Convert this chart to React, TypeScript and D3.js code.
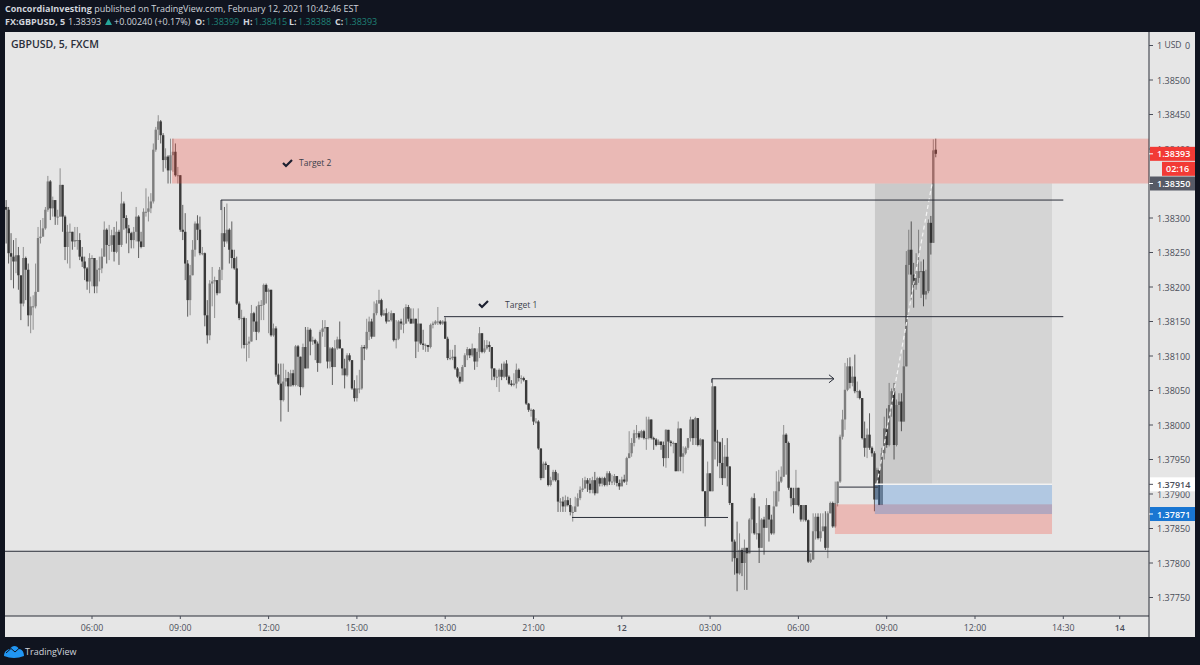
import React from "react";
import * as d3 from "d3";

// prices are stored as points: 38326 means 1.38326
const closes = [
  38316,38312,38249,38244,38237,38246,38217,38176,38242,38225,
  38159,38172,38172,38193,38271,38273,38285,38312,38353,38314,
  38326,38302,38302,38348,38302,38258,38280,38280,38266,38268,
  38268,38244,38237,38227,38208,38242,38242,38201,38225,38227,
  38244,38283,38261,38261,38275,38251,38280,38261,38321,38300,
  38285,38278,38268,38280,38302,38266,38258,38309,38309,38314,
  38324,38399,38428,38440,38420,38384,38389,38369,38391,38396,
  38362,38362,38283,38280,38234,38181,38217,38254,38292,38283,
  38249,38249,38159,38130,38205,38208,38210,38191,38225,38278,
  38266,38283,38254,38242,38227,38176,38155,38155,38116,38118,
  38121,38162,38150,38135,38174,38174,38203,38193,38196,38130,
  38140,38073,38060,38036,38063,38068,38056,38075,38058,38114,
  38099,38055,38113,38082,38138,38121,38123,38118,38090,38135,
  38140,38142,38092,38111,38084,38111,38124,38111,38082,38072,
  38101,38094,38053,38039,38053,38053,38113,38111,38135,38150,
  38128,38162,38176,38181,38159,38162,38150,38152,38162,38123,
  38125,38150,38147,38147,38171,38154,38147,38154,38121,38147,
  38118,38116,38116,38113,38145,38147,38150,38150,38147,38150,
  38125,38097,38097,38099,38082,38070,38063,38084,38101,38110,
  38101,38111,38092,38106,38133,38106,38111,38116,38113,38082,
  38070,38070,38080,38070,38089,38070,38060,38058,38060,38080,
  38068,38068,38065,38031,38022,38022,38005,38005,37966,37923,
  37944,37942,37913,37920,37932,37920,37889,37889,37882,37891,
  37884,37874,37874,37882,37894,37906,37908,37920,37915,37906,
  37920,37901,37923,37915,37923,37913,37930,37918,37918,37926,
  37916,37911,37921,37918,37952,37959,37974,37988,37988,37982,
  37991,37981,37981,38008,37981,37979,37971,37976,37971,37952,
  37993,37976,37974,37974,37933,37995,37954,37959,37967,37981,
  38008,37981,38010,37971,37979,37904,37867,37930,37904,38056,
  37976,37975,37945,37923,37954,37940,37887,37831,37807,37785,
  37819,37800,37822,37814,37863,37894,37843,37843,37822,37863,
  37851,37884,37863,37843,37882,37904,37918,37925,37986,37974,
  37909,37894,37884,37909,37884,37863,37884,37862,37802,37805,
  37846,37867,37836,37846,37853,37822,37872,37887,37853,37887,
  37918,37983,38008,38051,38085,38061,38070,38049,38049,38039,
  37981,37967,37986,37967,37959,37892,37935,37884,37959,37995,
  37971,38029,38049,37971,38029,38034,38005,38085,38232,38254,
  38218,38203,38213,38223,38223,38189,38194,38293,38264,38398,
  38393,
];

const highs = [
  38326,38326,38316,38278,38268,38271,38258,38213,38258,38244,
  38234,38186,38188,38234,38287,38297,38300,38316,38361,38355,
  38331,38324,38312,38372,38348,38304,38290,38292,38280,38287,
  38287,38278,38258,38244,38229,38249,38246,38242,38239,38244,
  38256,38295,38285,38290,38283,38287,38295,38283,38338,38324,
  38304,38290,38280,38287,38316,38304,38280,38314,38343,38331,
  38336,38408,38432,38449,38442,38423,38401,38391,38415,38415,
  38408,38374,38362,38319,38307,38239,38232,38268,38295,38304,
  38302,38258,38250,38181,38210,38229,38215,38210,38229,38326,
  38316,38321,38285,38295,38254,38244,38179,38167,38157,38155,
  38128,38174,38164,38172,38179,38181,38205,38205,38198,38196,
  38147,38143,38089,38089,38089,38080,38077,38080,38080,38116,
  38116,38099,38118,38142,38142,38140,38128,38125,38121,38138,
  38152,38152,38142,38113,38113,38123,38128,38150,38111,38096,
  38104,38104,38094,38065,38072,38080,38116,38116,38154,38157,
  38154,38179,38181,38196,38183,38167,38169,38164,38166,38162,
  38152,38152,38154,38169,38175,38174,38169,38169,38154,38169,
  38142,38138,38118,38116,38147,38150,38152,38171,38152,38152,
  38156,38128,38109,38109,38116,38084,38077,38087,38104,38113,
  38111,38118,38111,38111,38142,38133,38123,38123,38121,38113,
  38082,38080,38082,38089,38092,38094,38072,38065,38075,38089,
  38082,38072,38070,38065,38032,38024,38023,38010,38007,37966,
  37947,37947,37942,37925,37935,37935,37930,37894,37896,37898,
  37896,37894,37882,37896,37901,37911,37923,37925,37923,37923,
  37925,37932,37925,37925,37925,37925,37933,37933,37928,37929,
  37925,37921,37925,37928,37954,37991,37981,37993,38000,37991,
  37993,37993,38012,38012,38008,37983,37981,37979,37976,37976,
  37994,37993,37978,37976,37974,38005,37995,37969,37969,37981,
  38012,38008,38012,38010,37981,37979,37904,37947,37930,38068,
  38056,37993,37976,37981,37971,37981,37940,37887,37834,37860,
  37843,37822,37834,37822,37865,37896,37901,37858,37882,37865,
  37867,37894,37884,37870,37904,37933,37935,37940,38000,37988,
  37976,37909,37909,37935,37909,37884,37884,37884,37863,37814,
  37872,37872,37872,37872,37872,37875,37875,37889,37889,37918,
  37918,37986,38022,38090,38097,38098,38085,38102,38063,38051,
  38039,38005,37995,38017,37969,37962,37938,37938,37967,38012,
  38024,38061,38053,38061,38037,38046,38046,38109,38252,38283,
  38295,38235,38249,38283,38237,38240,38225,38298,38303,38414,
  38415,
];

const lows = [
  38278,38263,38234,38210,38198,38220,38196,38152,38172,38181,
  38143,38133,38138,38169,38193,38263,38273,38283,38309,38297,
  38302,38290,38290,38302,38280,38239,38234,38227,38254,38258,
  38254,38239,38229,38210,38196,38191,38201,38191,38191,38208,
  38220,38244,38234,38239,38251,38237,38249,38232,38258,38283,
  38263,38249,38256,38256,38266,38242,38256,38258,38302,38295,
  38307,38321,38396,38413,38408,38367,38372,38350,38350,38367,
  38360,38350,38280,38268,38210,38157,38159,38217,38244,38268,
  38246,38246,38143,38118,38123,38172,38155,38188,38191,38210,
  38258,38263,38234,38227,38225,38174,38152,38111,38111,38092,
  38097,38121,38135,38123,38133,38152,38152,38176,38133,38128,
  38128,38070,38058,38005,38034,38056,38019,38056,38056,38056,
  38056,38043,38053,38082,38113,38101,38116,38094,38077,38089,
  38128,38113,38082,38082,38058,38084,38109,38111,38072,38053,
  38070,38092,38051,38034,38034,38046,38051,38094,38109,38123,
  38125,38128,38159,38176,38157,38158,38147,38150,38150,38121,
  38111,38123,38138,38133,38147,38150,38147,38150,38097,38106,
  38116,38109,38106,38106,38111,38140,38145,38145,38145,38145,
  38125,38094,38094,38094,38080,38068,38060,38063,38084,38094,
  38097,38099,38080,38084,38097,38104,38104,38109,38106,38065,
  38065,38055,38048,38065,38068,38065,38058,38056,38056,38053,
  38063,38060,38063,38029,38019,38012,38000,38002,37964,37920,
  37925,37935,37911,37911,37918,37918,37874,37874,37874,37874,
  37882,37869,37860,37877,37882,37891,37903,37908,37903,37901,
  37901,37898,37901,37911,37911,37911,37911,37913,37913,37913,
  37911,37906,37913,37916,37913,37952,37954,37969,37981,37979,
  37981,37979,37964,37979,37979,37964,37969,37971,37964,37940,
  37938,37952,37969,37959,37933,37933,37933,37930,37957,37964,
  37976,37971,37971,37969,37969,37904,37853,37867,37904,37904,
  37950,37940,37923,37913,37923,37911,37884,37802,37783,37759,
  37783,37781,37761,37761,37814,37843,37841,37834,37800,37822,
  37812,37851,37831,37841,37841,37882,37889,37916,37925,37928,
  37906,37882,37872,37884,37882,37860,37860,37860,37800,37800,
  37805,37834,37834,37831,37848,37819,37807,37872,37851,37851,
  37882,37916,37979,37993,38049,38053,38056,38046,38039,38037,
  37979,37954,37952,37964,37954,37875,37892,37884,37884,37950,
  37967,37969,38012,37950,37969,38005,37991,38005,38085,38218,
  38182,38170,38196,38206,38184,38172,38182,38191,38247,38264,
  38388,
];

const firstOpen = 38330;
const lastOpen = 38399;

const priceTicks = [
  1.3855, 1.385, 1.3845, 1.384, 1.3835, 1.383, 1.3825, 1.382, 1.3815, 1.381,
  1.3805, 1.38, 1.3795, 1.379, 1.3785, 1.378, 1.3775,
];
const timeTicks: [number, string][] = [
  [36, "06:00"], [72, "09:00"], [108, "12:00"], [144, "15:00"], [180, "18:00"],
  [216, "21:00"], [252, "12"], [288, "03:00"], [324, "06:00"], [360, "09:00"],
  [396, "12:00"], [432, "14:30"], [455, "14"],
];

const FONT = "'Open Sans', 'Noto Sans', sans-serif";
const dark = "#10141f";
const paper = "#e6e6e6";
const teal = "#1f8076";

const width = 1200;
const height = 665;
const plot = { left: 5, right: 1149, top: 32, bottom: 616, panelRight: 1195, panelBottom: 637 };

const App: React.FC = () => {
  const x = d3.scaleLinear().domain([36, 396]).range([92, 975]);
  const y = d3.scaleLinear().domain([1.38, 1.385]).range([425, 80]);
  const price = (pts: number) => y(1 + pts / 100000);

  const candles = closes.map((c, i) => {
    let o = i === 0 ? firstOpen : closes[i - 1];
    if (i === closes.length - 1) o = lastOpen;
    return { i, o, c, h: highs[i], l: lows[i] };
  });

  const zone = (
    i0: number, i1: number, p0: number, p1: number, fill: string, opacity: number
  ) => (
    <rect
      x={x(i0)}
      width={x(i1) - x(i0)}
      y={y(p0)}
      height={y(p1) - y(p0)}
      fill={fill}
      fillOpacity={opacity}
    />
  );

  const tag = (p: number, bg: string, fg: string, text: string) => (
    <g>
      <rect x={plot.right + 1} y={y(p) - 7} width={plot.panelRight - plot.right - 1} height={14} fill={bg} />
      <line x1={plot.right} x2={plot.right + 4} y1={y(p)} y2={y(p)} stroke={fg} />
      <text x={1157} y={y(p) + 3.5} fontSize={9} fontWeight={600} fill={fg} fontFamily={FONT}>
        {text}
      </text>
    </g>
  );

  const check = (cx: number, cy: number) => (
    <path
      d={`M${cx - 5},${cy} L${cx - 2},${cy + 3} L${cx + 4},${cy - 3}`}
      fill="none"
      stroke="#1c2030"
      strokeWidth={2.2}
    />
  );

  const topLineX = x(88.6);
  const arrowEnd = x(338.5);
  const arrowY = y(1.38067);

  return (
    <svg
      width={width}
      height={height}
      style={{ position: "fixed", left: 0, top: 0, display: "block" }}
    >
      <rect width={width} height={height} fill={dark} />
      <rect
        x={plot.left}
        y={plot.top}
        width={plot.panelRight - plot.left}
        height={plot.panelBottom - plot.top}
        fill={paper}
      />

      {/* header */}
      <g fontFamily={FONT} fontSize={9} fill="#d1d4dc">
        <text x={5} y={12}>
          <tspan fontWeight={700}>ConcordiaInvesting</tspan> published on TradingView.com, February 12, 2021 10:42:46 EST
        </text>
        <text x={5} y={25} fontWeight={700}>FX:GBPUSD, 5</text>
        <text x={68} y={25}>1.38393</text>
        <path d="M105,25 L108.5,18.5 L112,25 Z" fill="#26a69a" />
        <text x={114} y={25}>+0.00240 (+0.17%)</text>
        <text x={195} y={25} fontWeight={700}>O:</text>
        <text x={206} y={25} fill={teal}>1.38399</text>
        <text x={243} y={25} fontWeight={700}>H:</text>
        <text x={254} y={25} fill={teal}>1.38415</text>
        <text x={289} y={25} fontWeight={700}>L:</text>
        <text x={298} y={25} fill={teal}>1.38388</text>
        <text x={335} y={25} fontWeight={700}>C:</text>
        <text x={344} y={25} fill={teal}>1.38393</text>
      </g>

      <clipPath id="plotClip">
        <rect x={plot.left} y={plot.top} width={plot.right - plot.left} height={plot.bottom - plot.top} />
      </clipPath>

      <g clipPath="url(#plotClip)">
        {candles.map((d) => {
          const up = d.c >= d.o;
          const col = up ? "#7e7e7e" : "#3a3a3a";
          const top = Math.min(price(d.o), price(d.c));
          const bot = Math.max(price(d.o), price(d.c));
          return (
            <g key={d.i}>
              <line
                x1={x(d.i)}
                x2={x(d.i)}
                y1={price(d.h)}
                y2={price(d.l)}
                stroke={up ? "#8f8f8f" : "#5e5e5e"}
                strokeWidth={1}
              />
              <rect
                x={x(d.i) - 1.2}
                width={2.4}
                y={top}
                height={Math.max(bot - top, 1)}
                fill={col}
              />
            </g>
          );
        })}

        {/* position tool and zones sit on top of the candles */}
        {zone(355.2, 378.5, 1.3835, 1.37914, "#000", 0.12)}
        {zone(378.5, 427.4, 1.3835, 1.37914, "#000", 0.07)}
        {zone(338.9, 427.4, 1.37885, 1.37842, "#f4402f", 0.27)}
        {zone(355.2, 427.4, 1.37914, 1.37871, "#2176d7", 0.27)}
        <line x1={x(355.2)} x2={x(427.4)} y1={y(1.37914)} y2={y(1.37914)} stroke="#f2f2f2" strokeWidth={1.5} />
        <line
          x1={x(356)}
          x2={x(378.5)}
          y1={y(1.37914)}
          y2={y(1.3835)}
          stroke="#f4f4f4"
          strokeWidth={1.2}
          strokeDasharray="4 3"
        />
        {zone(68.6, 470, 1.38415, 1.3835, "#f4402f", 0.27)}
        {zone(0, 470, 1.37817, 1.3772, "#000", 0.06)}
        <line x1={plot.left} x2={plot.right} y1={y(1.37817)} y2={y(1.37817)} stroke="#2a2e39" strokeWidth={1} />

        {/* drawn levels */}
        <g fill="none" stroke="#2a2e39" strokeWidth={1}>
          <path d={`M${topLineX},${y(1.38326) + 10} V${y(1.38326)} H${x(432)}`} />
          <line x1={x(179.5)} x2={x(432)} y1={y(1.38157)} y2={y(1.38157)} />
          <line x1={x(231.7)} x2={x(295.3)} y1={y(1.37866)} y2={y(1.37866)} />
          <line x1={x(340.5)} x2={x(356.4)} y1={y(1.3791)} y2={y(1.3791)} />
          <path d={`M${x(288.7)},${arrowY + 4} V${arrowY} H${arrowEnd}`} />
          <path d={`M${arrowEnd - 5},${arrowY - 4} L${arrowEnd},${arrowY} L${arrowEnd - 5},${arrowY + 4}`} />
        </g>

        {check(288, 163)}
        <text x={299} y={166} fontSize={8.5} fill="#3c3f4a" fontFamily={FONT}>Target 2</text>
        {check(484, 304)}
        <text x={505} y={308} fontSize={8.5} fill="#3c3f4a" fontFamily={FONT}>Target 1</text>
      </g>

      <text x={11} y={48} fontSize={10.5} fontWeight={600} fill="#2a2e39" fontFamily={FONT}>
        GBPUSD, 5, FXCM
      </text>

      {/* price axis */}
      <line x1={plot.right} x2={plot.right} y1={plot.top} y2={plot.panelBottom} stroke="#2a2e39" />
      {priceTicks.map((p) => (
        <g key={p}>
          <line x1={plot.right} x2={plot.right + 4} y1={y(p)} y2={y(p)} stroke="#4a4e59" />
          <text x={1157} y={y(p) + 3.5} fontSize={9} fill="#4a4e59" fontFamily={FONT}>
            {p.toFixed(5)}
          </text>
        </g>
      ))}
      <rect x={1162} y={38} width={23} height={13} rx={2} fill={paper} />
      <text x={1173} y={47.5} fontSize={8.5} textAnchor="middle" fill="#4a4e59" fontFamily={FONT}>USD</text>

      {tag(1.38393, "#f23a35", "#ffffff", "1.38393")}
      <rect x={1162} y={y(1.38393) + 8} width={33} height={14} fill="#f23a35" />
      <text x={1166} y={y(1.38393) + 18.5} fontSize={9} fontWeight={600} fill="#ffffff" fontFamily={FONT}>02:16</text>
      {tag(1.3835, "#565a66", "#ffffff", "1.38350")}
      {tag(1.37914, "#ffffff", "#4a4e59", "1.37914")}
      {tag(1.37871, "#1976d2", "#ffffff", "1.37871")}

      {/* time axis */}
      <line x1={plot.left} x2={plot.right} y1={plot.bottom} y2={plot.bottom} stroke="#2a2e39" />
      {timeTicks.map(([bar, label]) => (
        <g key={bar}>
          <line x1={x(bar)} x2={x(bar)} y1={plot.bottom} y2={plot.bottom + 3} stroke="#4a4e59" />
          <text
            x={x(bar)}
            y={631}
            fontSize={8.8}
            textAnchor="middle"
            fontWeight={label.length < 3 ? 600 : 400}
            fill="#4a4e59"
            fontFamily={FONT}
          >
            {label}
          </text>
        </g>
      ))}

      {/* logo */}
      <path
        d="M4,656 C4,651 8,649 10,649 C12,645 17,645 19,649 C22,649 24,652 24,656 Q14,660 4,656 Z"
        fill="#2196f3"
      />
      <path d="M6,653 L11,648.5 L15,652 L20,647.5 L23,650" fill="none" stroke="#10141f" strokeWidth={1} />
      <text x={25} y={655} fontSize={9} fill="#d1d4dc" fontFamily={FONT}>TradingView</text>
    </svg>
  );
};

export default App;
